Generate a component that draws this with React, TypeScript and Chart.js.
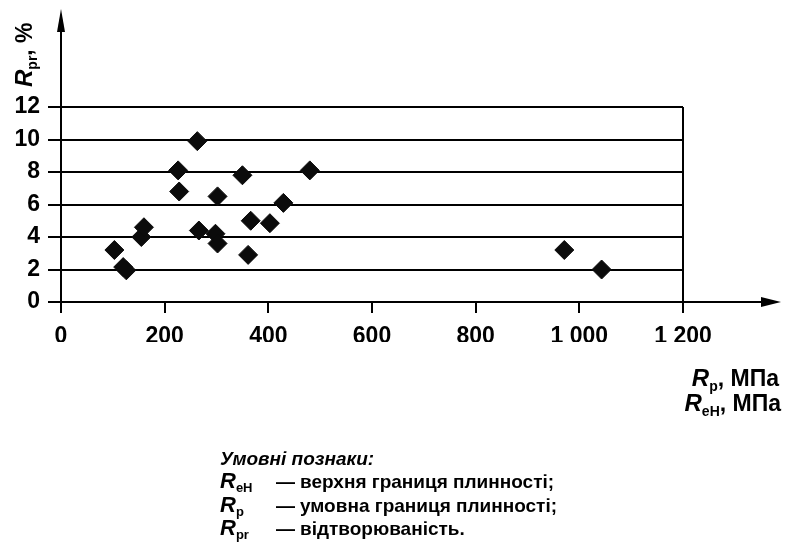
import React, { useEffect, useRef } from "react";
import { Chart, registerables } from "chart.js";

Chart.register(...registerables);

// ---- data ----
const rpValues = [103, 120, 126, 155, 160, 226, 228, 263, 266, 298, 302, 302, 350, 361, 366, 403, 429, 480, 971, 1043];
const rprValues = [3.2, 2.15, 1.95, 4.0, 4.6, 8.1, 6.8, 9.9, 4.4, 4.2, 3.6, 6.5, 7.8, 2.9, 5.0, 4.85, 6.1, 8.1, 3.2, 2.0];
const xTicks = [0, 200, 400, 600, 800, 1000, 1200];
const yTicks = [0, 2, 4, 6, 8, 10, 12];
const legendTitle = "Умовні познаки:";
const legendSymbols = [
  { main: "R", sub: "eH", text: "верхня границя плинності;" },
  { main: "R", sub: "p", text: "умовна границя плинності;" },
  { main: "R", sub: "pr", text: "відтворюваність." },
];

const FAMILY = '"Liberation Sans", Arial, sans-serif';

type Part = { text: string; font: string; dy?: number };

function richWidth(ctx: CanvasRenderingContext2D, parts: Part[]) {
  let w = 0;
  for (const p of parts) {
    ctx.font = p.font;
    w += ctx.measureText(p.text).width;
  }
  return w;
}

function drawRich(ctx: CanvasRenderingContext2D, parts: Part[], x: number, y: number) {
  let cx = x;
  for (const p of parts) {
    ctx.font = p.font;
    ctx.fillText(p.text, cx, y + (p.dy || 0));
    cx += ctx.measureText(p.text).width;
  }
  return cx;
}

const decorations = {
  id: "decorations",
  afterDraw(chart: any) {
    const ctx: CanvasRenderingContext2D = chart.ctx;
    const { left, bottom } = chart.chartArea;
    ctx.save();
    ctx.strokeStyle = "#000";
    ctx.fillStyle = "#000";
    ctx.lineWidth = 2;
    // y axis with arrow
    ctx.beginPath();
    ctx.moveTo(left, bottom + 11);
    ctx.lineTo(left, 24);
    ctx.stroke();
    ctx.beginPath();
    ctx.moveTo(left, 9);
    ctx.lineTo(left - 4, 32);
    ctx.lineTo(left + 4, 32);
    ctx.closePath();
    ctx.fill();
    // x axis with arrow
    ctx.beginPath();
    ctx.moveTo(left - 13, bottom);
    ctx.lineTo(766, bottom);
    ctx.stroke();
    ctx.beginPath();
    ctx.moveTo(781, bottom);
    ctx.lineTo(761, bottom - 5);
    ctx.lineTo(761, bottom + 5);
    ctx.closePath();
    ctx.fill();

    ctx.textBaseline = "alphabetic";
    ctx.textAlign = "left";
    const big = 23;
    const sub = 14;
    // y axis title (rotated)
    ctx.save();
    ctx.translate(32, 87);
    ctx.rotate(-Math.PI / 2);
    drawRich(ctx, [
      { text: "R", font: `italic bold ${big + 1}px ${FAMILY}` },
      { text: "pr", font: `bold ${sub}px ${FAMILY}`, dy: 5 },
      { text: ", %", font: `bold ${big}px ${FAMILY}` },
    ], 0, 0);
    ctx.restore();

    // x axis titles, right aligned
    const line1: Part[] = [
      { text: "R", font: `italic bold ${big + 1}px ${FAMILY}` },
      { text: "p", font: `bold ${sub}px ${FAMILY}`, dy: 5 },
      { text: ", МПа", font: `bold ${big}px ${FAMILY}` },
    ];
    const line2: Part[] = [
      { text: "R", font: `italic bold ${big + 1}px ${FAMILY}` },
      { text: "eH", font: `bold ${sub}px ${FAMILY}`, dy: 5 },
      { text: ", МПа", font: `bold ${big}px ${FAMILY}` },
    ];
    drawRich(ctx, line1, 779 - richWidth(ctx, line1), 386);
    drawRich(ctx, line2, 781 - richWidth(ctx, line2), 411);

    // legend block
    const lf = 19;
    ctx.font = `italic bold ${lf}px ${FAMILY}`;
    ctx.fillText(legendTitle, 220, 465);
    legendSymbols.forEach((s, i) => {
      const y = 488 + i * 23.5;
      drawRich(ctx, [
        { text: s.main, font: `italic bold ${lf + 3}px ${FAMILY}` },
        { text: s.sub, font: `bold 13px ${FAMILY}`, dy: 4 },
      ], 220, y);
      drawRich(ctx, [{ text: "—", font: `bold ${lf}px ${FAMILY}` }], 276, y);
      drawRich(ctx, [{ text: s.text, font: `bold ${lf}px ${FAMILY}` }], 300, y);
    });
    ctx.restore();
  },
};

export default function App() {
  const ref = useRef<HTMLCanvasElement | null>(null);
  useEffect(() => {
    if (!ref.current) return;
    const chart = new Chart(ref.current, {
      type: "scatter",
      data: {
        datasets: [
          {
            data: rpValues.map((x, i) => ({ x, y: rprValues[i] })),
            pointStyle: "rectRot",
            pointRadius: 9.5,
            backgroundColor: "#0b0b0b",
            borderColor: "#0b0b0b",
            borderWidth: 1,
          },
        ],
      },
      options: {
        animation: false,
        responsive: true,
        maintainAspectRatio: false,
        layout: { padding: { left: 0, right: 103, top: 107, bottom: 206 } },
        plugins: { legend: { display: false }, tooltip: { enabled: false } },
        scales: {
          x: {
            type: "linear",
            min: 0,
            max: 1200,
            afterFit: (s: any) => { s.height = 40; },
            afterBuildTicks: (s: any) => { s.ticks = xTicks.map((v) => ({ value: v })); },
            border: { display: false },
            grid: {
              color: (c: any) => (c.tick && c.tick.value === 1200 ? "#000" : "rgba(0,0,0,0)"),
              tickColor: "#000",
              lineWidth: 2,
              tickLength: 11,
            },
            ticks: {
              color: "#000",
              padding: 10,
              maxRotation: 0,
              font: { family: FAMILY, size: 23, weight: "bold" },
              callback: (v: any) => String(v).replace(/\B(?=(\d{3})+(?!\d))/g, " "),
            },
          },
          y: {
            type: "linear",
            min: 0,
            max: 12,
            afterFit: (s: any) => { s.width = 61; },
            afterBuildTicks: (s: any) => { s.ticks = yTicks.map((v) => ({ value: v })); },
            border: { display: false },
            grid: { color: "#000", lineWidth: 2, tickLength: 13, tickColor: "#000" },
            ticks: {
              color: "#000",
              padding: 8,
              font: { family: FAMILY, size: 23, weight: "bold" },
            },
          },
        },
      },
      plugins: [decorations],
    });
    return () => chart.destroy();
  }, []);
  return (
    <div style={{ position: "absolute", left: 0, top: 0, width: 786, height: 548, background: "#fff" }}>
      <canvas ref={ref} />
    </div>
  );
}
